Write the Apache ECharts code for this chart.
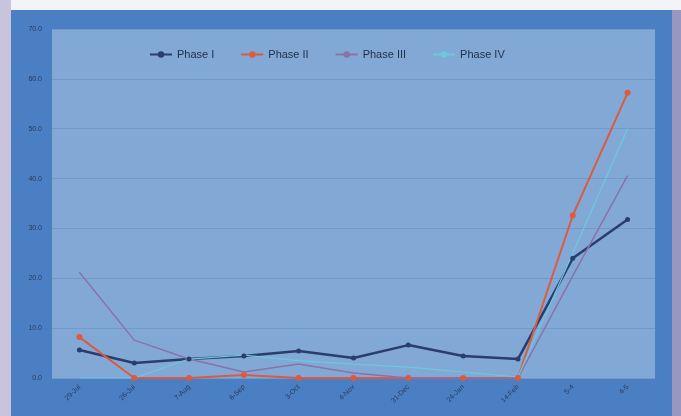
<!DOCTYPE html>
<html>
<head>
<meta charset="utf-8">
<script src="https://cdn.jsdelivr.net/npm/echarts@6/dist/echarts.min.js"></script>
<style>
  html, body { margin: 0; padding: 0; background: #ffffff; }
  #chart { width: 681px; height: 416px; }
</style>
</head>
<body>
<div id="chart"></div>
<script>
var categories = ['29-Jul', '26-Jul', '7-Aug', '6-Sep', '3-Oct', '4-Nov', '31-Dec', '24-Jan', '14-Feb', '5-4', '4-5'];
var yTicks = [0, 10, 20, 30, 40, 50, 60, 70];
var phase1 = [5.6, 3.0, 3.8, 4.4, 5.4, 4.0, 6.6, 4.4, 3.8, 24.0, 31.8];
var phase2 = [8.2, 0, 0, 0.6, 0, 0, 0, 0, 0, 32.6, 57.2];
var phase3 = [21.2, 7.6, 3.8, 1.2, 2.8, 1.0, 0, 0, 0, 20.5, 40.6];
var phase4 = [0, 0, 3.8, 4.6, 3.5, 2.8, 2.2, 1.2, 0.2, 25.0, 50.0];

window.onload = function () {
    var chart = echarts.init(document.getElementById('chart'));

    function line(name, data, color, width, symbol, size) {
        return {
            name: name,
            type: 'line',
            data: data,
            symbol: symbol,
            symbolSize: size,
            lineStyle: { color: color, width: width },
            itemStyle: { color: color },
            z: 3
        };
    }

    var option = {
        animation: false,
        backgroundColor: '#9a96c2',
        graphic: [
            { type: 'rect', left: 0, top: 0, shape: { width: 681, height: 10 }, style: { fill: '#f4f4f8' }, z: -10 },
            { type: 'rect', left: 0, top: 0, shape: { width: 11, height: 416 }, style: { fill: '#c8c4dc' }, z: -10 },
            { type: 'rect', left: 11, top: 10, shape: { width: 661, height: 406 }, style: { fill: '#4a7fc3' }, z: -9 }
        ],
        color: ['#2b3d6b', '#dc5a40', '#8a72a6', '#6cc9dc'],
        legend: {
            top: 44,
            left: 144,
            itemGap: 26,
            itemWidth: 22,
            itemHeight: 8,
            textStyle: { color: '#253048', fontSize: 11, fontFamily: 'Liberation Sans' },
            data: ['Phase I', 'Phase II', 'Phase III', 'Phase IV']
        },
        grid: {
            left: 52, right: 26, top: 29, bottom: 38,
            show: true,
            backgroundColor: '#82a9d6',
            borderWidth: 0
        },
        xAxis: {
            type: 'category',
            data: categories,
            boundaryGap: true,
            axisLine: { show: false },
            axisTick: { show: false },
            axisLabel: { rotate: 45, fontSize: 7, color: '#2c3a58', margin: 8 }
        },
        yAxis: {
            type: 'value',
            min: yTicks[0],
            max: yTicks[yTicks.length - 1],
            interval: 10,
            axisLine: { show: false },
            axisTick: { show: false },
            axisLabel: {
                fontSize: 7, color: '#2c3a58', margin: 10,
                formatter: function (v) { return v.toFixed(1); }
            },
            splitLine: { lineStyle: { color: '#7199c9', width: 1 } }
        },
        series: [
            line('Phase I', phase1, '#2b3d6b', 2.5, 'circle', 5),
            line('Phase II', phase2, '#dc5a40', 2, 'circle', 6),
            line('Phase III', phase3, '#8a72a6', 1.5, 'none', 4),
            line('Phase IV', phase4, '#6cc9dc', 1.2, 'none', 4)
        ]
    };

    chart.setOption(option);
};
</script>
</body>
</html>
